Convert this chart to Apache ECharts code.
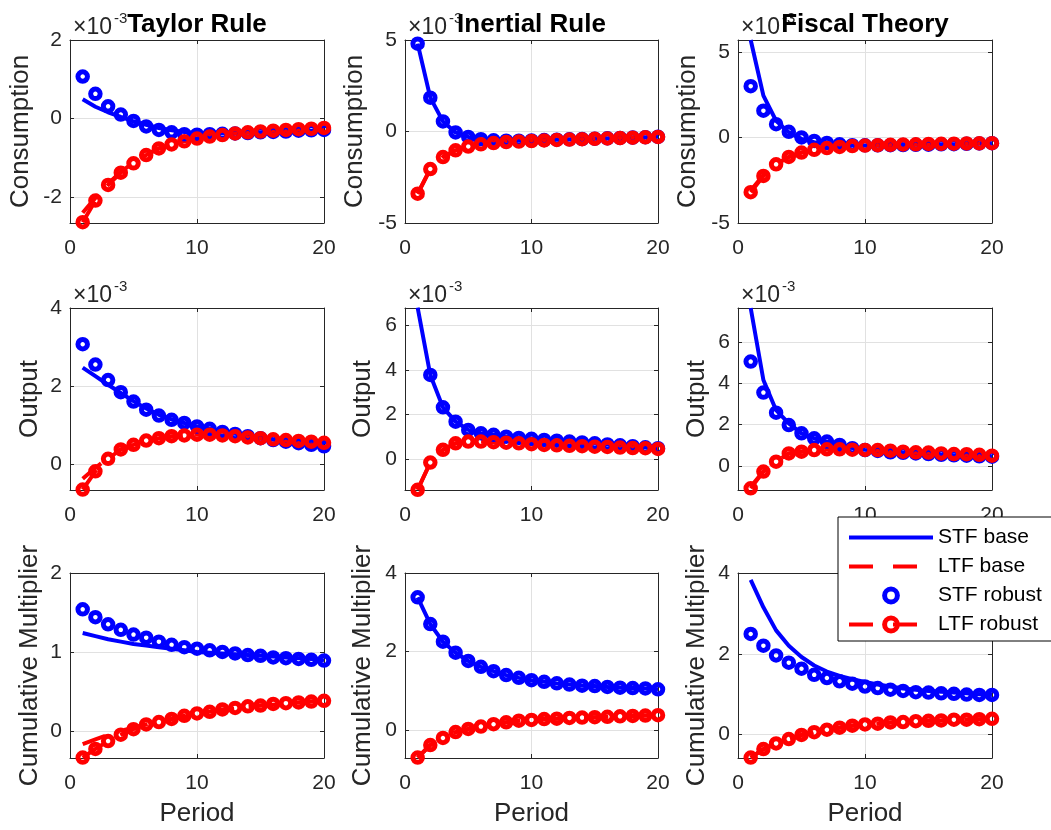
<!DOCTYPE html>
<html>
<head>
<meta charset="utf-8">
<script src="https://cdn.jsdelivr.net/npm/echarts@6/dist/echarts.min.js"></script>
<style>
html,body{margin:0;padding:0;background:#fff;}
#chart{width:1051px;height:830px;}
</style>
</head>
<body>
<div id="chart"></div>
<script>
// ---------------- DATA ----------------
const periods = [1,2,3,4,5,6,7,8,9,10,11,12,13,14,15,16,17,18,19,20];
const policyTitles = ['Taylor Rule', 'Inertial Rule', 'Fiscal Theory'];
const rowLabels = ['Consumption', 'Output', 'Cumulative Multiplier'];
const seriesNames = ['STF base', 'LTF base', 'STF robust', 'LTF robust'];
const periodTicks = [0, 10, 20];

// Consumption (x 10^-3)
const consTaylorStfBase = [0.49,0.30,0.16,0.04,-0.07,-0.16,-0.24,-0.30,-0.34,-0.37,-0.38,-0.38,-0.37,-0.36,-0.35,-0.34,-0.33,-0.32,-0.31,-0.30];
const consTaylorLtfBase = [-2.40,-2.02,-1.66,-1.36,-1.12,-0.92,-0.76,-0.65,-0.57,-0.50,-0.45,-0.41,-0.38,-0.35,-0.33,-0.31,-0.29,-0.27,-0.26,-0.24];
const consTaylorStfRob  = [1.07,0.63,0.31,0.10,-0.06,-0.20,-0.29,-0.35,-0.40,-0.41,-0.40,-0.39,-0.38,-0.37,-0.35,-0.34,-0.33,-0.31,-0.30,-0.29];
const consTaylorLtfRob  = [-2.64,-2.09,-1.69,-1.38,-1.14,-0.93,-0.76,-0.66,-0.58,-0.51,-0.46,-0.42,-0.38,-0.35,-0.33,-0.31,-0.29,-0.27,-0.26,-0.24];

const consInertStfBase = [4.80,1.85,0.55,-0.05,-0.30,-0.42,-0.48,-0.50,-0.50,-0.49,-0.47,-0.45,-0.43,-0.41,-0.39,-0.37,-0.35,-0.33,-0.31,-0.29];
const consInertLtfBase = [-3.40,-2.05,-1.40,-1.03,-0.82,-0.70,-0.63,-0.58,-0.55,-0.52,-0.49,-0.46,-0.44,-0.42,-0.40,-0.38,-0.36,-0.34,-0.32,-0.30];
const consInertStfRob  = [4.80,1.85,0.55,-0.05,-0.30,-0.42,-0.48,-0.50,-0.50,-0.49,-0.47,-0.45,-0.43,-0.41,-0.39,-0.37,-0.35,-0.33,-0.31,-0.29];
const consInertLtfRob  = [-3.40,-2.05,-1.40,-1.03,-0.82,-0.70,-0.63,-0.58,-0.55,-0.52,-0.49,-0.46,-0.44,-0.42,-0.40,-0.38,-0.36,-0.34,-0.32,-0.30];

const consFiscStfBase = [5.70,2.45,0.98,0.30,-0.08,-0.27,-0.38,-0.44,-0.46,-0.47,-0.46,-0.45,-0.44,-0.43,-0.42,-0.40,-0.39,-0.37,-0.35,-0.33];
const consFiscLtfBase = [-3.10,-2.20,-1.57,-1.14,-0.88,-0.72,-0.62,-0.55,-0.50,-0.47,-0.45,-0.43,-0.41,-0.40,-0.38,-0.37,-0.36,-0.35,-0.34,-0.33];
const consFiscStfRob  = [3.00,1.57,0.78,0.33,0.00,-0.20,-0.32,-0.40,-0.45,-0.46,-0.46,-0.45,-0.44,-0.43,-0.42,-0.40,-0.39,-0.37,-0.35,-0.33];
const consFiscLtfRob  = [-3.20,-2.25,-1.57,-1.14,-0.88,-0.72,-0.62,-0.55,-0.50,-0.47,-0.45,-0.43,-0.41,-0.40,-0.38,-0.37,-0.36,-0.35,-0.34,-0.33];

// Output (x 10^-3)
const outTaylorStfBase = [2.47,2.25,2.03,1.82,1.61,1.42,1.26,1.14,1.05,0.96,0.90,0.83,0.77,0.72,0.67,0.62,0.58,0.54,0.50,0.46];
const outTaylorLtfBase = [-0.38,-0.10,0.15,0.37,0.49,0.60,0.66,0.70,0.73,0.74,0.74,0.73,0.71,0.68,0.66,0.63,0.61,0.59,0.57,0.54];
const outTaylorStfRob  = [3.07,2.55,2.15,1.84,1.60,1.39,1.24,1.13,1.05,0.96,0.90,0.82,0.77,0.71,0.66,0.61,0.57,0.53,0.49,0.45];
const outTaylorLtfRob  = [-0.66,-0.19,0.13,0.37,0.49,0.60,0.66,0.71,0.73,0.75,0.75,0.73,0.71,0.68,0.66,0.63,0.61,0.59,0.57,0.54];

const outInertStfBase = [6.79,3.77,2.32,1.68,1.31,1.16,1.09,1.01,0.95,0.91,0.86,0.83,0.79,0.75,0.71,0.66,0.62,0.58,0.53,0.49];
const outInertLtfBase = [-1.37,-0.15,0.42,0.71,0.79,0.79,0.76,0.74,0.71,0.67,0.64,0.62,0.60,0.58,0.56,0.55,0.52,0.50,0.49,0.46];
const outInertStfRob  = [6.79,3.77,2.32,1.68,1.31,1.16,1.09,1.01,0.95,0.91,0.86,0.83,0.79,0.75,0.71,0.66,0.62,0.58,0.53,0.49];
const outInertLtfRob  = [-1.37,-0.15,0.42,0.71,0.79,0.79,0.76,0.74,0.71,0.67,0.64,0.62,0.60,0.58,0.56,0.55,0.52,0.50,0.49,0.46];

const outFiscStfBase = [7.64,4.16,2.70,2.06,1.58,1.34,1.18,1.03,0.87,0.78,0.73,0.66,0.64,0.61,0.58,0.54,0.52,0.50,0.47,0.45];
const outFiscLtfBase = [-1.00,-0.25,0.21,0.61,0.69,0.77,0.81,0.81,0.79,0.78,0.77,0.74,0.70,0.67,0.65,0.61,0.58,0.56,0.53,0.50];
const outFiscStfRob  = [5.05,3.55,2.58,1.98,1.58,1.34,1.18,1.02,0.86,0.77,0.73,0.66,0.64,0.61,0.58,0.54,0.52,0.50,0.47,0.45];
const outFiscLtfRob  = [-1.08,-0.27,0.21,0.61,0.69,0.77,0.81,0.81,0.79,0.78,0.77,0.74,0.69,0.66,0.65,0.61,0.58,0.57,0.54,0.50];

// Cumulative multiplier
const multTaylorStfBase = [1.24,1.20,1.16,1.13,1.10,1.08,1.06,1.04,1.02,1.00,0.99,0.98,0.97,0.96,0.95,0.94,0.93,0.92,0.91,0.89];
const multTaylorLtfBase = [-0.17,-0.11,-0.05,0.00,0.04,0.08,0.12,0.15,0.18,0.21,0.24,0.26,0.28,0.30,0.32,0.33,0.35,0.36,0.37,0.38];
const multTaylorStfRob  = [1.54,1.44,1.35,1.28,1.22,1.18,1.13,1.09,1.06,1.04,1.02,1.00,0.98,0.96,0.95,0.93,0.92,0.91,0.90,0.89];
const multTaylorLtfRob  = [-0.34,-0.23,-0.13,-0.05,0.02,0.08,0.11,0.15,0.19,0.22,0.24,0.27,0.29,0.31,0.32,0.34,0.35,0.36,0.37,0.38];

const multInertStfBase = [3.38,2.70,2.25,1.97,1.76,1.61,1.50,1.40,1.33,1.27,1.23,1.19,1.16,1.13,1.12,1.10,1.08,1.07,1.06,1.04];
const multInertLtfBase = [-0.70,-0.38,-0.20,-0.05,0.03,0.09,0.15,0.20,0.24,0.26,0.28,0.29,0.31,0.32,0.33,0.34,0.35,0.36,0.37,0.38];
const multInertStfRob  = [3.38,2.70,2.25,1.97,1.76,1.61,1.50,1.40,1.33,1.27,1.23,1.19,1.16,1.13,1.12,1.10,1.08,1.07,1.06,1.04];
const multInertLtfRob  = [-0.70,-0.38,-0.20,-0.05,0.03,0.09,0.15,0.20,0.24,0.26,0.28,0.29,0.31,0.32,0.33,0.34,0.35,0.36,0.37,0.38];

const multFiscStfBase = [3.83,3.15,2.58,2.20,1.92,1.71,1.56,1.45,1.37,1.30,1.24,1.19,1.14,1.11,1.08,1.06,1.04,1.02,1.00,0.98];
const multFiscLtfBase = [-0.57,-0.36,-0.22,-0.11,-0.01,0.06,0.12,0.17,0.22,0.25,0.27,0.30,0.31,0.33,0.34,0.35,0.37,0.37,0.38,0.39];
const multFiscStfRob  = [2.49,2.20,1.96,1.78,1.63,1.48,1.40,1.32,1.26,1.19,1.15,1.11,1.08,1.05,1.04,1.02,1.01,0.99,0.98,0.98];
const multFiscLtfRob  = [-0.57,-0.36,-0.22,-0.11,-0.01,0.06,0.12,0.17,0.22,0.25,0.27,0.30,0.31,0.33,0.34,0.35,0.37,0.37,0.38,0.39];

// y tick labels
const yTicksConsTaylor = [-2, 0, 2];
const yTicksConsInert  = [-5, 0, 5];
const yTicksConsFisc   = [-5, 0, 5];
const yTicksOutTaylor  = [0, 2, 4];
const yTicksOutInert   = [0, 2, 4, 6];
const yTicksOutFisc    = [0, 2, 4, 6];
const yTicksMultTaylor = [0, 1, 2];
const yTicksMultInert  = [0, 2, 4];
const yTicksMultFisc   = [0, 2, 4];

// ---------------- LAYOUT ----------------
const colLeft = [70, 405, 738];
const colWidth = [254, 253, 254];
const rowTop = [40, 308, 573];
const rowHeight = [183, 182, 185];
const BLUE = '#0000ff', RED = '#ff0000', AX = '#262626', GRIDC = '#e1e1e1';
const FONT = '"Liberation Sans", Arial, Helvetica, sans-serif';

const panels = [
  {d:[consTaylorStfBase,consTaylorLtfBase,consTaylorStfRob,consTaylorLtfRob], yMin:-2.66, yMax:2, ticks:yTicksConsTaylor, gap:36},
  {d:[consInertStfBase,consInertLtfBase,consInertStfRob,consInertLtfRob], yMin:-5, yMax:5, ticks:yTicksConsInert, gap:37},
  {d:[consFiscStfBase,consFiscLtfBase,consFiscStfRob,consFiscLtfRob], yMin:-5, yMax:5.7, ticks:yTicksConsFisc, gap:37},
  {d:[outTaylorStfBase,outTaylorLtfBase,outTaylorStfRob,outTaylorLtfRob], yMin:-0.67, yMax:4, ticks:yTicksOutTaylor, gap:27},
  {d:[outInertStfBase,outInertLtfBase,outInertStfRob,outInertLtfRob], yMin:-1.38, yMax:6.77, ticks:yTicksOutInert, gap:29},
  {d:[outFiscStfBase,outFiscLtfBase,outFiscStfRob,outFiscLtfRob], yMin:-1.16, yMax:7.64, ticks:yTicksOutFisc, gap:28},
  {d:[multTaylorStfBase,multTaylorLtfBase,multTaylorStfRob,multTaylorLtfRob], yMin:-0.345, yMax:2, ticks:yTicksMultTaylor, gap:27},
  {d:[multInertStfBase,multInertLtfBase,multInertStfRob,multInertLtfRob], yMin:-0.71, yMax:4, ticks:yTicksMultInert, gap:29},
  {d:[multFiscStfBase,multFiscLtfBase,multFiscStfRob,multFiscLtfRob], yMin:-0.58, yMax:4, ticks:yTicksMultFisc, gap:28}
];

function pts(arr){ return periods.map((p,i)=>[p, arr[i]]); }

const grid = [], xAxis = [], yAxis = [], series = [], graphic = [];
const tickStyle = {show:true, inside:true, length:4, lineStyle:{color:AX, width:1}};
const lineAx = {show:true, onZero:false, lineStyle:{color:AX, width:1}};

panels.forEach((p, g) => {
  const r = Math.floor(g/3), c = g % 3;
  grid.push({left:colLeft[c], top:rowTop[r], width:colWidth[c], height:rowHeight[r], containLabel:false, outerBoundsMode:'none', show:false});
  xAxis.push({gridIndex:g, type:'value', min:0, max:20, position:'bottom',
    axisLine:lineAx, axisTick:Object.assign({customValues:periodTicks}, tickStyle),
    axisLabel:{show:true, customValues:periodTicks, color:AX, fontSize:21, fontFamily:FONT, margin:15},
    splitLine:{show:true, lineStyle:{color:GRIDC, width:1}},
    name: r===2 ? 'Period' : '', nameLocation:'middle', nameGap:43, nameMoveOverlap:false,
    nameTextStyle:{fontSize:26, color:AX, fontFamily:FONT}});
  xAxis.push({gridIndex:g, type:'value', min:0, max:20, position:'top',
    axisLine:lineAx, axisTick:Object.assign({customValues:periodTicks}, tickStyle),
    axisLabel:{show:false}, splitLine:{show:false}});
  yAxis.push({gridIndex:g, type:'value', min:p.yMin, max:p.yMax, position:'left',
    axisLine:lineAx, axisTick:Object.assign({customValues:p.ticks}, tickStyle),
    axisLabel:{show:true, customValues:p.ticks, color:AX, fontSize:21, fontFamily:FONT, margin:8},
    splitLine:{show:true, lineStyle:{color:GRIDC, width:1}},
    name: rowLabels[r], nameLocation:'middle', nameRotate:90, nameGap:p.gap, nameMoveOverlap:false,
    nameTextStyle:{fontSize:26, color:AX, fontFamily:FONT}});
  yAxis.push({gridIndex:g, type:'value', min:p.yMin, max:p.yMax, position:'right',
    axisLine:lineAx, axisTick:Object.assign({customValues:p.ticks}, tickStyle),
    axisLabel:{show:false}, splitLine:{show:false}});

  const xi = 2*g, yi = 2*g;
  series.push({name:seriesNames[0], type:'line', xAxisIndex:xi, yAxisIndex:yi, data:pts(p.d[0]),
    symbol:'none', lineStyle:{color:BLUE, width:4}, itemStyle:{color:'rgba(0,0,0,0)'}, silent:true});
  series.push({name:seriesNames[1], type:'line', xAxisIndex:xi, yAxisIndex:yi, data:pts(p.d[1]),
    symbol:'none', lineStyle:{color:RED, width:4, type:[24,20]}, itemStyle:{color:'rgba(0,0,0,0)'}, silent:true});
  series.push({name:seriesNames[2], type:'line', xAxisIndex:xi, yAxisIndex:yi, data:pts(p.d[2]),
    symbol:'circle', symbolSize:9.5, showSymbol:true,
    lineStyle:{color:BLUE, width:0, opacity:0},
    itemStyle:{color:'rgba(0,0,0,0)', borderColor:BLUE, borderWidth:5}, silent:true});
  series.push({name:seriesNames[3], type:'line', xAxisIndex:xi, yAxisIndex:yi, data:pts(p.d[3]),
    symbol:'circle', symbolSize:9.5, showSymbol:true,
    lineStyle:{color:RED, width:4, type:[24,20]},
    itemStyle:{color:'rgba(0,0,0,0)', borderColor:RED, borderWidth:5}, silent:true});

  if (r < 2) {
    graphic.push({type:'text', x:colLeft[c]+3, y:rowTop[r]-24, z:50,
      style:{text:'\u00d710', font:'23px ' + FONT, fill:AX, verticalAlign:'top', align:'left'}});
    graphic.push({type:'text', x:colLeft[c]+44, y:rowTop[r]-29, z:50,
      style:{text:'-3', font:'15px ' + FONT, fill:AX, verticalAlign:'top', align:'left'}});
  }
});

policyTitles.forEach((t, c) => {
  graphic.push({type:'text', x:colLeft[c]+colWidth[c]/2, y:12, z:60,
    style:{text:t, font:'bold 26px ' + FONT, fill:'#000', align:'center', verticalAlign:'top'}});
});

const chart = echarts.init(document.getElementById('chart'), null, {renderer:'canvas'});
chart.setOption({
  animation:false,
  backgroundColor:'#fff',
  grid, xAxis, yAxis, series, graphic,
  legend:{
    data:seriesNames, orient:'vertical', left:838, top:517,
    padding:[10,12,6,9], itemWidth:84, itemHeight:16, itemGap:8,
    lineStyle:{width:'inherit'},
    itemStyle:{borderWidth:'inherit'},
    backgroundColor:'#fff', borderColor:'#000', borderWidth:1, borderRadius:0,
    textStyle:{fontSize:21, color:'#000', fontFamily:FONT},
    selectedMode:false, z:20
  }
});
</script>
</body>
</html>
